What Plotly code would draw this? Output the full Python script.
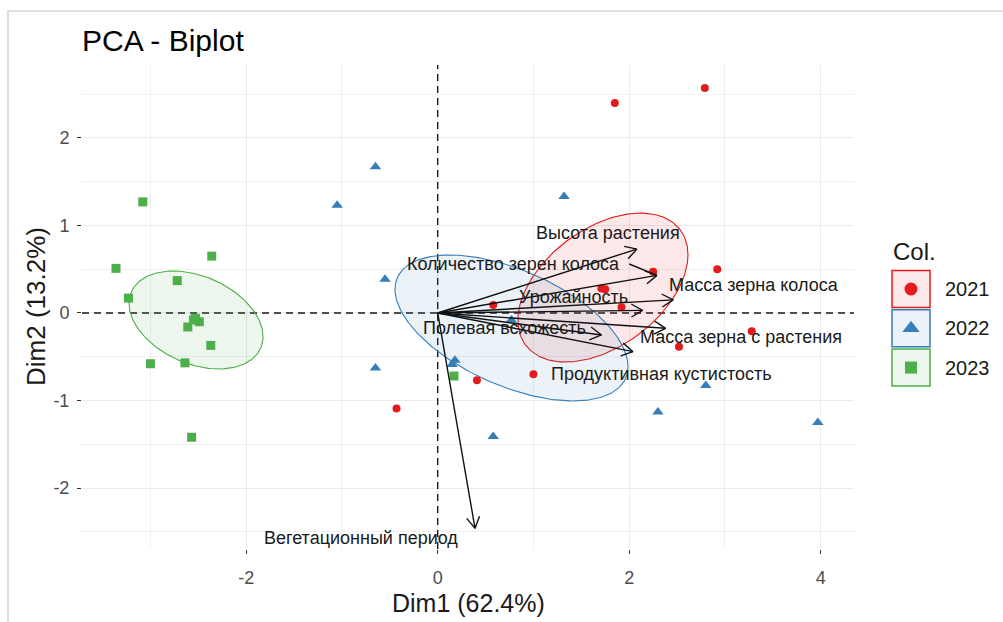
import numpy as np
import plotly.graph_objects as go

W, H = 1003, 622
# plot panel position in pixels
PL, PR, PT, PB = 82, 854, 65, 549
XR = [-3.715, 4.348]
YR = [-2.697, 2.834]

years = ["2021", "2022", "2023"]
colors = ["#E41A1C", "#377EB8", "#4DAF4A"]
fills = ["rgba(228,26,28,0.10)", "rgba(55,126,184,0.10)", "rgba(77,175,74,0.10)"]
symbols = ["circle", "triangle-up", "square"]
msizes = [8, 10, 9]
legend_msizes = [13, 15, 12]

# individuals (Dim1, Dim2)
x2021 = [1.85, 2.79, 2.92, 2.25, 1.71, 1.75, 1.92, 0.58, 3.28, 2.52, 1.00, 0.41, -0.43]
y2021 = [2.40, 2.57, 0.50, 0.47, 0.28, 0.27, 0.065, 0.09, -0.21, -0.385, -0.70, -0.77, -1.09]
x2022 = [-0.65, -1.05, 1.32, -0.55, 0.77, 0.18, 0.15, -0.65, 0.58, 2.30, 2.80, 3.97]
y2022 = [1.67, 1.23, 1.33, 0.385, -0.08, -0.54, -0.59, -0.63, -1.41, -1.13, -0.83, -1.25]
x2023 = [-3.08, -3.36, -2.36, -2.72, -3.23, -2.53, -2.49, -2.61, -2.55, -2.37, -3.00, -2.64, -2.57, 0.17]
y2023 = [1.27, 0.51, 0.65, 0.37, 0.17, -0.06, -0.10, -0.16, -0.08, -0.37, -0.58, -0.57, -1.42, -0.72]

# concentration ellipses (center, half extents, correlation)
ell_cx = [1.726, 0.771, -2.524]
ell_cy = [0.291, -0.171, -0.08]
ell_hx = [0.888, 1.217, 0.70]
ell_hy = [0.851, 0.834, 0.56]
ell_rho = [0.44, -0.53, -0.34]

# variables (arrow tips) and label positions
var_names = ["Высота растения", "Количество зерен колоса", "Масса зерна колоса", "Урожайность",
             "Масса зерна с растения", "Полевая всхожесть", "Продуктивная кустистость",
             "Вегетационный период"]
var_x = [2.08, 2.29, 2.46, 2.14, 2.38, 1.71, 2.04, 0.39]
var_y = [0.73, 0.43, 0.15, 0.03, -0.175, -0.251, -0.442, -2.461]
label_x = [1.78, 0.79, 3.30, 1.42, 3.17, 0.70, 2.34, -0.80]
label_y = [0.91, 0.56, 0.32, 0.18, -0.27, -0.17, -0.70, -2.57]
label_segment = [False, True, False, False, False, False, False, False]

xtick_vals = [-2, 0, 2, 4]
xtick_text = ["-2", "0", "2", "4"]
ytick_vals = [-2, -1, 0, 1, 2]
ytick_text = ["-2", "-1", "0", "1", "2"]
xminor = [-3, -1, 1, 3]
yminor = [-2.5, -1.5, -0.5, 0.5, 1.5, 2.5]

FONT = "Liberation Sans, Arial, sans-serif"
LABEL_SIZE = 18

# pixel scales
sx = (PR - PL) / (XR[1] - XR[0])
sy = (PB - PT) / (YR[1] - YR[0])

fig = go.Figure()

# dashed zero lines (span the axis ranges)
fig.add_trace(go.Scatter(x=[XR[0], XR[1]], y=[0, 0], mode="lines",
                         line=dict(color="#1A1A1A", width=1.4, dash="7px,5px"),
                         hoverinfo="skip", showlegend=False))
fig.add_trace(go.Scatter(x=[0, 0], y=[YR[0], YR[1]], mode="lines",
                         line=dict(color="#1A1A1A", width=1.4, dash="7px,5px"),
                         hoverinfo="skip", showlegend=False))

# ellipses
for i in range(3):
    t = np.linspace(0, 2 * np.pi, 241)
    phi = np.arccos(ell_rho[i])
    ex = ell_cx[i] + ell_hx[i] * np.cos(t)
    ey = ell_cy[i] + ell_hy[i] * np.cos(t - phi)
    fig.add_trace(go.Scatter(x=ex, y=ey, mode="lines", fill="toself", fillcolor=fills[i],
                             line=dict(color=colors[i], width=1.1), hoverinfo="skip",
                             showlegend=False))

# points
xs = [x2021, x2022, x2023]
ys = [y2021, y2022, y2023]
for i in range(3):
    fig.add_trace(go.Scatter(x=xs[i], y=ys[i], mode="markers", name=years[i],
                             marker=dict(symbol=symbols[i], size=msizes[i], color=colors[i],
                                         line=dict(width=0)),
                             showlegend=False))

# arrows
ax, ay = [], []
L = 13.0
for vx, vy in zip(var_x, var_y):
    ax += [0, vx, None]
    ay += [0, vy, None]
    ang = np.arctan2(vy * sy, vx * sx)
    for s in (+1, -1):
        a = ang + np.pi + s * np.pi / 6
        ax += [vx, vx + L * np.cos(a) / sx, None]
        ay += [vy, vy + L * np.sin(a) / sy, None]
# repel segments
for i, seg in enumerate(label_segment):
    if seg:
        half_w = len(var_names[i]) * LABEL_SIZE * 0.56 / 2
        ax += [label_x[i] + half_w / sx, var_x[i], None]
        ay += [label_y[i], var_y[i], None]
fig.add_trace(go.Scatter(x=ax, y=ay, mode="lines", line=dict(color="#111111", width=1.4),
                         hoverinfo="skip", showlegend=False))

# variable labels
for n, lx, ly in zip(var_names, label_x, label_y):
    fig.add_annotation(x=lx, y=ly, xref="x", yref="y", text=n, showarrow=False,
                       font=dict(family=FONT, size=LABEL_SIZE, color="#1A1A1A"),
                       xanchor="center", yanchor="middle")

# ---- custom legend on hidden axes (pixel coordinates)
LX0, LX1, LY0, LY1 = 870, 1000, 225, 400
box_cx, box_cy0, box_step, box_w, box_h = 911, 289, 39.3, 38, 37
for i in range(3):
    cy = box_cy0 + i * box_step
    fig.add_shape(type="rect", xref="x2", yref="y2",
                  x0=box_cx - box_w / 2, x1=box_cx + box_w / 2,
                  y0=cy - box_h / 2, y1=cy + box_h / 2,
                  line=dict(color=colors[i], width=1.5), fillcolor=fills[i], layer="below")
    fig.add_trace(go.Scatter(x=[box_cx], y=[cy], xaxis="x2", yaxis="y2", mode="markers",
                             marker=dict(symbol=symbols[i], size=legend_msizes[i],
                                         color=colors[i], line=dict(width=0)),
                             hoverinfo="skip", showlegend=False))
    fig.add_annotation(x=943, y=cy, xref="x2", yref="y2", text=years[i], showarrow=False,
                       xanchor="left", yanchor="middle",
                       font=dict(family=FONT, size=20, color="#1A1A1A"))
fig.add_annotation(x=891, y=251, xref="x2", yref="y2", text="Col.", showarrow=False,
                   xanchor="left", yanchor="middle",
                   font=dict(family=FONT, size=24, color="#1A1A1A"))

# title and axis titles (paper = whole figure)
fig.add_annotation(x=80 / W, y=1 - 40 / H, xref="paper", yref="paper", text="PCA - Biplot",
                   showarrow=False, xanchor="left", yanchor="middle",
                   font=dict(family=FONT, size=30, color="black"))
fig.add_annotation(x=(PL + PR) / 2 / W, y=1 - 603 / H, xref="paper", yref="paper",
                   text="Dim1 (62.4%)", showarrow=False, xanchor="center", yanchor="middle",
                   font=dict(family=FONT, size=25, color="#1A1A1A"))
fig.add_annotation(x=36 / W, y=1 - (PT + PB) / 2 / H, xref="paper", yref="paper",
                   text="Dim2 (13.2%)", showarrow=False, xanchor="center", yanchor="middle",
                   textangle=-90, font=dict(family=FONT, size=26, color="#1A1A1A"))

# image frame
fig.add_shape(type="rect", xref="paper", yref="paper", x0=8 / W, x1=1.02, y0=-0.02,
              y1=1 - 11 / H, line=dict(color="#C4C4C4", width=1.2), fillcolor="rgba(0,0,0,0)")

axis_common = dict(showline=False, zeroline=False, ticks="outside", ticklen=4, tickwidth=1.1,
                   tickcolor="#333333", gridcolor="#EBEBEB", gridwidth=1.4,
                   tickfont=dict(family=FONT, size=18, color="#4D4D4D"), automargin=False)

fig.update_layout(
    width=W, height=H, margin=dict(l=0, r=0, t=0, b=0),
    paper_bgcolor="white", plot_bgcolor="white", showlegend=False,
    xaxis=dict(domain=[PL / W, PR / W], range=XR, tickmode="array", tickvals=xtick_vals,
               ticktext=xtick_text, minor=dict(tickvals=xminor, showgrid=True,
                                               gridcolor="#F0F0F0", gridwidth=0.9),
               ticklabelstandoff=8, **axis_common),
    yaxis=dict(domain=[1 - PB / H, 1 - PT / H], range=YR, tickmode="array", tickvals=ytick_vals,
               ticktext=ytick_text, minor=dict(tickvals=yminor, showgrid=True,
                                               gridcolor="#F0F0F0", gridwidth=0.9),
               ticklabelstandoff=4, **axis_common),
    xaxis2=dict(domain=[LX0 / W, LX1 / W], range=[LX0, LX1], visible=False, fixedrange=True),
    yaxis2=dict(domain=[1 - LY1 / H, 1 - LY0 / H], range=[LY1, LY0], visible=False,
                fixedrange=True),
)

fig.write_html("out.html")
